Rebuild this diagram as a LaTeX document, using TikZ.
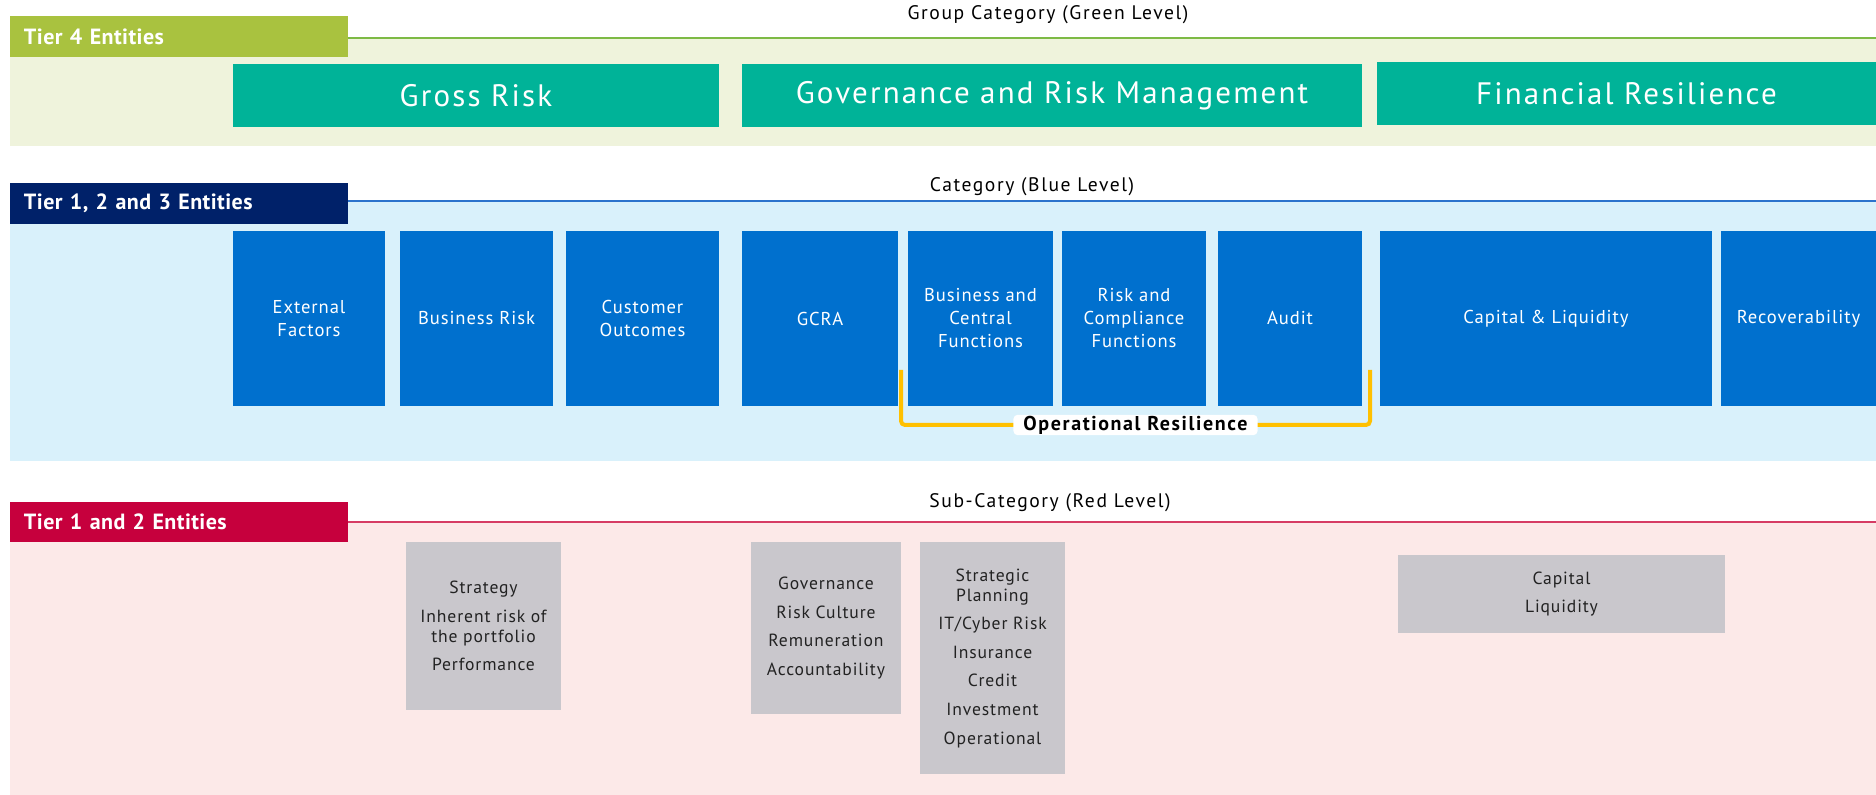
\documentclass[tikz,border=0pt]{standalone}
\usepackage{fontspec}
\setmainfont{PT Sans}[LetterSpace=5]
\usetikzlibrary{positioning}
\usepackage{xcolor}
\definecolor{tiergreen}{HTML}{A9C23F}
\definecolor{greenline}{HTML}{7DBA45}
\definecolor{greenbg}{HTML}{EFF3DC}
\definecolor{tealfill}{HTML}{00B398}
\definecolor{navy}{HTML}{002169}
\definecolor{blueline}{HTML}{2C73CC}
\definecolor{bluebg}{HTML}{D9F1FB}
\definecolor{bluefill}{HTML}{0070CE}
\definecolor{opyellow}{HTML}{FFC000}
\definecolor{crimson}{HTML}{C6003D}
\definecolor{redline}{HTML}{D63C64}
\definecolor{pinkbg}{HTML}{FCE9E8}
\definecolor{greyfill}{HTML}{C9C7CC}
\definecolor{greytext}{HTML}{222222}
\tikzset{font={\fontsize{9.3pt}{11.5pt}\selectfont}}
\tikzset{
  tierlabel/.style={text=white,minimum width=169pt,minimum height=20.5pt,inner xsep=7pt,
    text width=155pt,align=left,font={\fontsize{11pt}{13pt}\selectfont\bfseries\addfontfeatures{LetterSpace=2}}},
  levelhead/.style={text=black,inner sep=1pt,font={\fontsize{9.8pt}{12pt}\selectfont\addfontfeatures{LetterSpace=8}}},
  tealbox/.style={fill=tealfill,text=white,minimum height=31.5pt,inner sep=0pt,
    font={\fontsize{15.5pt}{18pt}\selectfont\addfontfeatures{LetterSpace=7}}},
  bluebox/.style={fill=bluefill,text=white,minimum height=87.5pt,inner sep=0pt,align=center},
  greybox/.style={fill=greyfill,text=greytext,inner sep=0pt,align=center,
    font={\fontsize{8.8pt}{10pt}\selectfont}},
  opbracket/.style={opyellow,line width=2pt,rounded corners=2pt},
  oplabel/.style={fill=white,text=black,inner ysep=0.5pt,inner xsep=5pt,
    font={\fontsize{10pt}{11pt}\selectfont\bfseries\addfontfeatures{LetterSpace=8}}}
}
\begin{document}
\begin{tikzpicture}[x=0.5pt,y=-0.5pt]
\useasboundingbox (0,0) rectangle (1876,795);

%green level
\fill[greenbg] (10,38) rectangle (1876,146);
\draw[greenline,line width=1pt] (348,38) -- (1876,38);
\node[tierlabel,fill=tiergreen] at (179,37) (t4) {Tier 4 Entities};
\node[levelhead] at (1048,15) (greenhead) {Group Category (Green Level)};

\node[tealbox,minimum width=243pt] at (476,95.5) (gross) {Gross Risk};
\node[tealbox,minimum width=310pt] at (1052,95.5) (govrisk) {Governance and Risk Management};
\node[tealbox,minimum width=249.5pt] at (1626.5,93.5) (finres) {Financial Resilience};

%blue level
\fill[bluebg] (10,201) rectangle (1876,461);
\draw[blueline,line width=1pt] (348,201) -- (1876,201);
\node[tierlabel,fill=navy] at (179,203.5) (t123) {Tier 1, 2 and 3 Entities};
\node[levelhead] at (1032,187) (bluehead) {Category (Blue Level)};

\node[bluebox,minimum width=76pt] at (309,318.5) (extf) {External\\Factors};
\node[bluebox,minimum width=76.5pt] at (476.5,318.5) (busrisk) {Business Risk};
\node[bluebox,minimum width=76.5pt] at (642.5,318.5) (custout) {Customer\\Outcomes};
\node[bluebox,minimum width=78pt] at (820,318.5) (gcra) {GCRA};
\node[bluebox,minimum width=72.5pt] at (980.5,318.5) (buscf) {Business and\\Central\\Functions};
\node[bluebox,minimum width=72pt] at (1134,318.5) (riskcf) {Risk and\\Compliance\\Functions};
\node[bluebox,minimum width=72pt] at (1290,318.5) (audit) {Audit};
\node[bluebox,minimum width=166pt] at (1546,318.5) (capliq) {Capital \& Liquidity};
\node[bluebox,minimum width=77.5pt] at (1798.5,318.5) (recov) {Recoverability};

%operational resilience bracket
\coordinate (opl) at (901,370);
\coordinate (opr) at (1370,370);
\draw[opbracket] (opl) -- (901,425) -- node[oplabel] (oplab) {Operational Resilience} (1370,425) -- (opr);

%red level
\fill[pinkbg] (10,522) rectangle (1876,795);
\draw[redline,line width=1pt] (348,522) -- (1876,522);
\node[tierlabel,fill=crimson,minimum height=20pt] at (179,522) (t12) {Tier 1 and 2 Entities};
\node[levelhead] at (1050,503) (redhead) {Sub-Category (Red Level)};

\node[greybox,minimum width=77.5pt,minimum height=84pt] at (483.5,626) (strat)
  {Strategy\\[4.3pt]Inherent risk of\\the portfolio\\[4.3pt]Performance};
\node[greybox,minimum width=75pt,minimum height=86pt] at (826,628) (gov)
  {Governance\\[4.3pt]Risk Culture\\[4.3pt]Remuneration\\[4.3pt]Accountability};
\node[greybox,minimum width=72.5pt,minimum height=116pt] at (992.5,658) (stratplan)
  {Strategic\\Planning\\[4.3pt]IT/Cyber Risk\\[4.3pt]Insurance\\[4.3pt]Credit\\[4.3pt]Investment\\[4.3pt]Operational};
\node[greybox,minimum width=163.5pt,minimum height=39pt] at (1561.5,594) (capital)
  {Capital\\[4.3pt]Liquidity};

\end{tikzpicture}
\end{document}
